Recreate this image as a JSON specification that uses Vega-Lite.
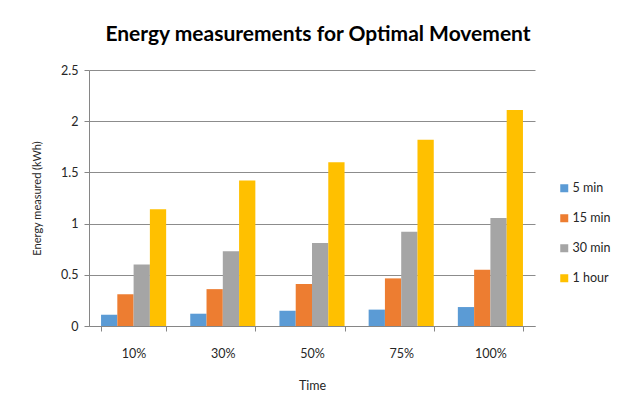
{
  "$schema": "https://vega.github.io/schema/vega-lite/v6.json",
  "width": 446,
  "height": 256,
  "autosize": {"type": "none"},
  "padding": {"left": 89, "top": 70, "right": 90, "bottom": 85},
  "background": "white",
  "title": {
    "text": "Energy measurements for Optimal Movement",
    "font": "Lato",
    "fontSize": 21,
    "fontWeight": "bold",
    "color": "#000000",
    "anchor": "middle",
    "dx": 6,
    "offset": 19
  },
  "data": {
    "values": [
      {"time": "10%", "duration": "5 min", "energy": 0.11},
      {"time": "10%", "duration": "15 min", "energy": 0.31},
      {"time": "10%", "duration": "30 min", "energy": 0.6},
      {"time": "10%", "duration": "1 hour", "energy": 1.14},
      {"time": "30%", "duration": "5 min", "energy": 0.12},
      {"time": "30%", "duration": "15 min", "energy": 0.36},
      {"time": "30%", "duration": "30 min", "energy": 0.73},
      {"time": "30%", "duration": "1 hour", "energy": 1.42},
      {"time": "50%", "duration": "5 min", "energy": 0.15},
      {"time": "50%", "duration": "15 min", "energy": 0.41},
      {"time": "50%", "duration": "30 min", "energy": 0.81},
      {"time": "50%", "duration": "1 hour", "energy": 1.6},
      {"time": "75%", "duration": "5 min", "energy": 0.16},
      {"time": "75%", "duration": "15 min", "energy": 0.465},
      {"time": "75%", "duration": "30 min", "energy": 0.92},
      {"time": "75%", "duration": "1 hour", "energy": 1.82},
      {"time": "100%", "duration": "5 min", "energy": 0.185},
      {"time": "100%", "duration": "15 min", "energy": 0.55},
      {"time": "100%", "duration": "30 min", "energy": 1.055},
      {"time": "100%", "duration": "1 hour", "energy": 2.11}
    ]
  },
  "mark": {"type": "bar"},
  "encoding": {
    "x": {
      "field": "time",
      "type": "nominal",
      "sort": ["10%", "30%", "50%", "75%", "100%"],
      "scale": {"paddingInner": 0.27, "paddingOuter": 0.135},
      "title": "Time",
      "axis": {
        "labelAngle": 0,
        "tickBand": "extent",
        "domainColor": "#868686",
        "tickColor": "#868686",
        "tickSize": 5,
        "labelFont": "Lato",
        "labelFontSize": 12.5,
        "labelColor": "#262626",
        "labelPadding": 16,
        "titleFont": "Lato",
        "titleFontSize": 12.5,
        "titleFontWeight": "normal",
        "titleColor": "#262626",
        "titlePadding": 20
      }
    },
    "xOffset": {
      "field": "duration",
      "type": "nominal",
      "sort": ["5 min", "15 min", "30 min", "1 hour"],
      "scale": {"paddingInner": 0, "paddingOuter": 0}
    },
    "y": {
      "field": "energy",
      "type": "quantitative",
      "scale": {"domain": [0, 2.5]},
      "title": "Energy measured (kWh)",
      "axis": {
        "values": [0, 0.5, 1, 1.5, 2, 2.5],
        "format": "~g",
        "domainColor": "#868686",
        "tickColor": "#868686",
        "tickSize": 5,
        "gridColor": "#8c8c8c",
        "labelFont": "Lato",
        "labelFontSize": 12.5,
        "labelColor": "#262626",
        "labelPadding": 6,
        "titleFont": "Lato",
        "titleFontSize": 11,
        "titleFontWeight": "normal",
        "titleColor": "#262626",
        "titlePadding": 18
      }
    },
    "color": {
      "field": "duration",
      "type": "nominal",
      "sort": ["5 min", "15 min", "30 min", "1 hour"],
      "scale": {
        "domain": ["5 min", "15 min", "30 min", "1 hour"],
        "range": ["#5B9BD5", "#ED7D31", "#A5A5A5", "#FFC000"]
      },
      "legend": {
        "title": null,
        "orient": "none",
        "legendX": 469,
        "legendY": 112,
        "symbolType": "square",
        "symbolSize": 64,
        "symbolStrokeWidth": 0,
        "labelFont": "Lato",
        "labelFontSize": 12.5,
        "labelColor": "#262626",
        "rowPadding": 17,
        "labelOffset": 2
      }
    }
  },
  "config": {
    "view": {"stroke": null},
    "axis": {"domainWidth": 1, "gridWidth": 1}
  }
}
